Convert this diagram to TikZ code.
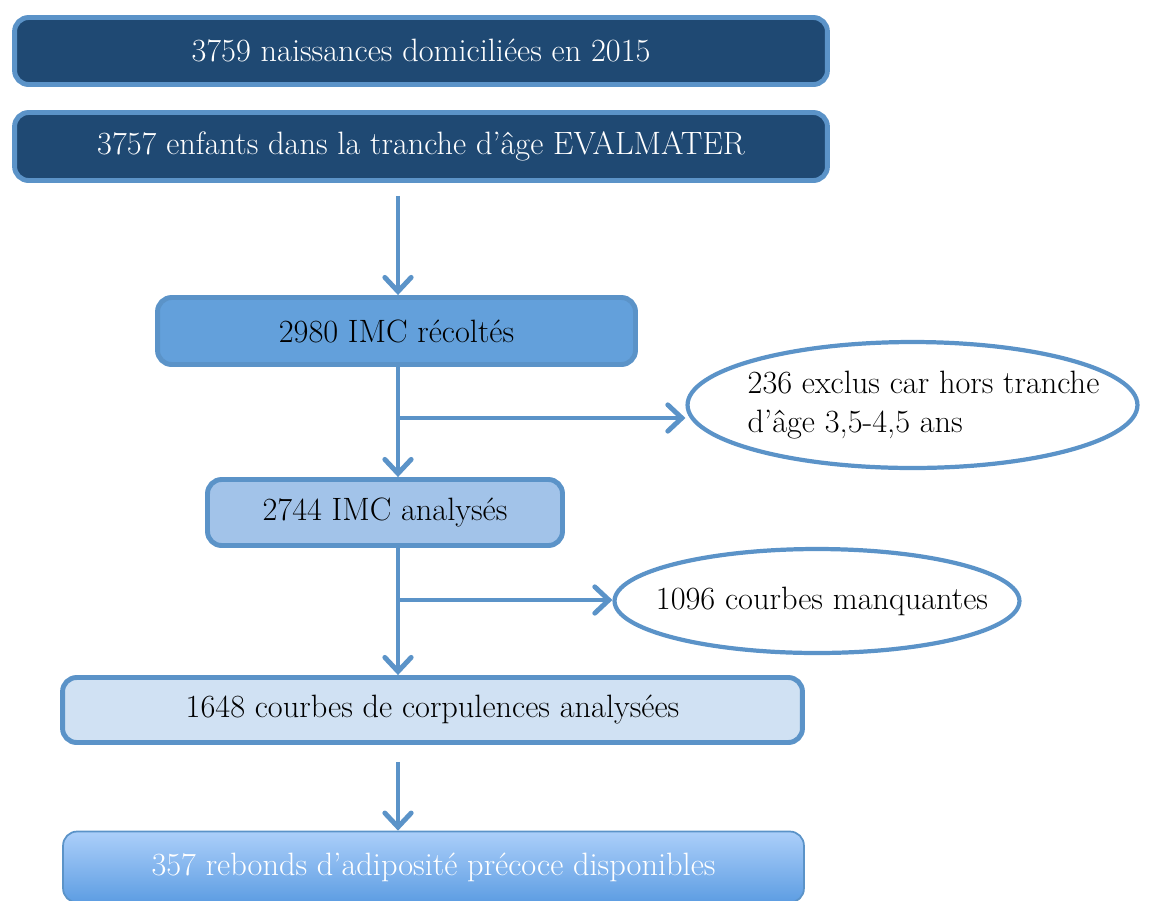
\documentclass[tikz,border=0pt]{standalone}
\usepackage{xcolor}
\usepackage{tikz}
\usetikzlibrary{shapes,arrows,positioning,calc,shapes.geometric,arrows.meta}

\definecolor{edgeblue}{HTML}{5B93C8}
\definecolor{navy}{HTML}{1F4973}
\definecolor{midblue}{HTML}{63A0DB}
\definecolor{lightblue}{HTML}{A2C3E9}
\definecolor{paleblue}{HTML}{D0E1F3}
\definecolor{gradtop}{HTML}{ACCFFA}
\definecolor{gradbot}{HTML}{5D9DE2}

\tikzset{
  flowbox/.style={draw=edgeblue, line width=2.8pt, rounded corners=8pt, inner sep=0pt,
    font=\fontsize{18.4}{22}\selectfont},
  exitell/.style={ellipse, draw=edgeblue, line width=2.4pt, fill=white, inner sep=0pt,
    font=\fontsize{18.4}{22}\selectfont},
  flowarrow/.style={draw=edgeblue, line width=2.8pt,
    -{Straight Barb[length=8pt,width=15pt,line cap=round]}},
}

\begin{document}
\begin{tikzpicture}[x=0.02cm,y=-0.02cm]
\useasboundingbox (0,0) rectangle (1152,900);
\clip (0,0) rectangle (1152,900);

% boxes
\node[flowbox, fill=navy, text=white, minimum width=16.26cm, minimum height=1.34cm] (b1) at (421,51) {3759 naissances domiciliées en 2015};
\node[flowbox, fill=navy, text=white, minimum width=16.26cm, minimum height=1.36cm] (b2) at (421,146.5) {3757 enfants dans la tranche d’âge EVALMATER};
\node[flowbox, fill=midblue, minimum width=9.56cm, minimum height=1.34cm] (b3) at (396.5,331) {2980 IMC récoltés};
\node[flowbox, fill=lightblue, minimum width=7.1cm, minimum height=1.32cm] (b4) at (385,512.5) {2744 IMC analysés};
\node[flowbox, fill=paleblue, minimum width=14.8cm, minimum height=1.3cm] (b5) at (432.5,710) {1648 courbes de corpulences analysées};
\node[flowbox, line width=1pt, top color=gradtop, bottom color=gradbot, text=white, minimum width=14.82cm, minimum height=1.42cm] (b6) at (433.5,867) {357 rebonds d’adiposité précoce disponibles};

% exclusions (text boxed to zero width so the ellipse keeps its size)
\node[exitell, minimum width=9.0cm, minimum height=2.52cm] (e1) at (912.5,405)
  {\makebox[0pt]{\hspace{0.44cm}\begin{tabular}{@{}l@{}}236 exclus car hors tranche\\d’âge 3,5-4,5 ans\end{tabular}}};
\node[exitell, minimum width=8.1cm, minimum height=2.08cm] (e2) at (817,601)
  {\makebox[0pt]{\hspace{0.2cm}1096 courbes manquantes}};

% connectors
\coordinate (k1) at (398,418);
\coordinate (k2) at (398,600);
\draw[flowarrow, shorten <=0.26cm] (k1 |- b2.south) -- (k1 |- b3.north);
\draw[flowarrow] (k1 |- b3.south) -- (k1 |- b4.north);
\draw[flowarrow] (k1) -- (k1 -| e1.west);
\draw[flowarrow] (k1 |- b4.south) -- (k1 |- b5.north);
\draw[flowarrow] (k2) -- (k2 -| e2.west);
\draw[flowarrow, shorten <=0.34cm] (k1 |- b5.south) -- (k1 |- b6.north);
\end{tikzpicture}
\end{document}
